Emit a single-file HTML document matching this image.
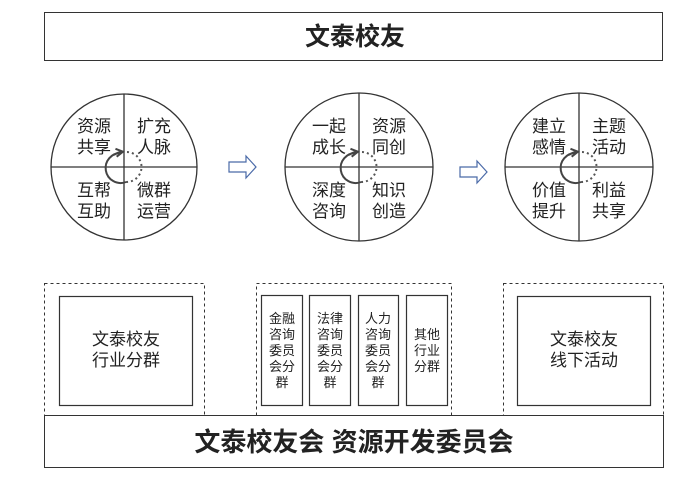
<!DOCTYPE html>
<html><head><meta charset="utf-8"><style>
html,body{margin:0;padding:0;background:#fff;}
svg text{font-family:"Liberation Sans","Noto Sans CJK SC",sans-serif;fill:#222;}
</style></head><body>
<svg width="700" height="481" viewBox="0 0 700 481" xmlns="http://www.w3.org/2000/svg">
<defs>
<marker id="ah" viewBox="0 0 10 10" refX="6" refY="5" markerWidth="5" markerHeight="5" orient="auto"><path d="M1,1 L8,5 L1,9" fill="none" stroke="#444" stroke-width="2"/></marker>
<g id="cyc">
<path d="M-3,-14 A15,15 0 1 0 2,15" fill="none" stroke="#444" stroke-width="2"/>
<path d="M-10,-12 A15,15 0 0 1 -3,-15" fill="none" stroke="#444" stroke-width="2" marker-end="url(#ah)"/>
<path d="M3,-15 A15,15 0 0 1 2,15" fill="none" stroke="#555" stroke-width="2" stroke-dasharray="2,3"/>
</g>
</defs>
<rect x="44.5" y="12.5" width="618" height="48" fill="#fff" stroke="#333"/>
<text x="355" y="45" font-size="25" font-weight="bold" text-anchor="middle">文泰校友</text>

<g stroke="#333" stroke-width="1.3" fill="none">
<circle cx="124" cy="167" r="73"/><line x1="51" y1="167" x2="197" y2="167"/><line x1="124" y1="94" x2="124" y2="240"/>
<circle cx="359" cy="167" r="74"/><line x1="285" y1="167" x2="433" y2="167"/><line x1="359" y1="93" x2="359" y2="241"/>
<circle cx="579" cy="167" r="74"/><line x1="505" y1="167" x2="653" y2="167"/><line x1="579" y1="93" x2="579" y2="241"/>
</g>
<use href="#cyc" x="124" y="167"/>
<use href="#cyc" x="359" y="167"/>
<use href="#cyc" x="579" y="167"/>
<g font-size="17" text-anchor="middle">
<text x="94" y="132">资源</text><text x="94" y="153">共享</text>
<text x="154" y="132">扩充</text><text x="154" y="153">人脉</text>
<text x="94" y="196">互帮</text><text x="94" y="217">互助</text>
<text x="154" y="196">微群</text><text x="154" y="217">运营</text>
<text x="329" y="132">一起</text><text x="329" y="153">成长</text>
<text x="389" y="132">资源</text><text x="389" y="153">同创</text>
<text x="329" y="196">深度</text><text x="329" y="217">咨询</text>
<text x="389" y="196">知识</text><text x="389" y="217">创造</text>
<text x="549" y="132">建立</text><text x="549" y="153">感情</text>
<text x="609" y="132">主题</text><text x="609" y="153">活动</text>
<text x="549" y="196">价值</text><text x="549" y="217">提升</text>
<text x="609" y="196">利益</text><text x="609" y="217">共享</text>
</g>
<g fill="#fff" stroke="#4a6aa8" stroke-width="1.2">
<path d="M229,162 H246 V156 L256,167 L246,178 V172 H229 Z"/>
<path d="M460,167 H477 V161 L487,172 L477,183 V177 H460 Z"/>
</g>

<g fill="none" stroke="#333" stroke-dasharray="3,3">
<rect x="44.5" y="283.5" width="160" height="132"/>
<rect x="256.5" y="283.5" width="195" height="132"/>
<rect x="503.5" y="283.5" width="160" height="132"/>
</g>
<g fill="#fff" stroke="#333" stroke-width="1.2">
<rect x="59.5" y="296.5" width="133" height="109"/>
<rect x="261.5" y="295.5" width="41" height="110"/>
<rect x="309.5" y="295.5" width="41" height="110"/>
<rect x="358.5" y="295.5" width="40" height="110"/>
<rect x="406.5" y="295.5" width="41" height="110"/>
<rect x="517.5" y="296.5" width="133" height="109"/>
</g>
<g font-size="17" text-anchor="middle">
<text x="126" y="345">文泰校友</text><text x="126" y="366">行业分群</text>
<text x="584" y="345">文泰校友</text><text x="584" y="366">线下活动</text>
</g>
<g font-size="13" text-anchor="middle">
<text x="282" y="323">金融</text><text x="282" y="339">咨询</text><text x="282" y="355">委员</text><text x="282" y="371">会分</text><text x="282" y="387">群</text>
<text x="330" y="323">法律</text><text x="330" y="339">咨询</text><text x="330" y="355">委员</text><text x="330" y="371">会分</text><text x="330" y="387">群</text>
<text x="378" y="323">人力</text><text x="378" y="339">咨询</text><text x="378" y="355">委员</text><text x="378" y="371">会分</text><text x="378" y="387">群</text>
<text x="427" y="339">其他</text><text x="427" y="355">行业</text><text x="427" y="371">分群</text>
</g>
<rect x="44.5" y="415.5" width="619" height="52" fill="#fff" stroke="#333"/>
<text x="354" y="451" font-size="26" font-weight="bold" text-anchor="middle">文泰校友会 资源开发委员会</text>
</svg>
</body></html>
